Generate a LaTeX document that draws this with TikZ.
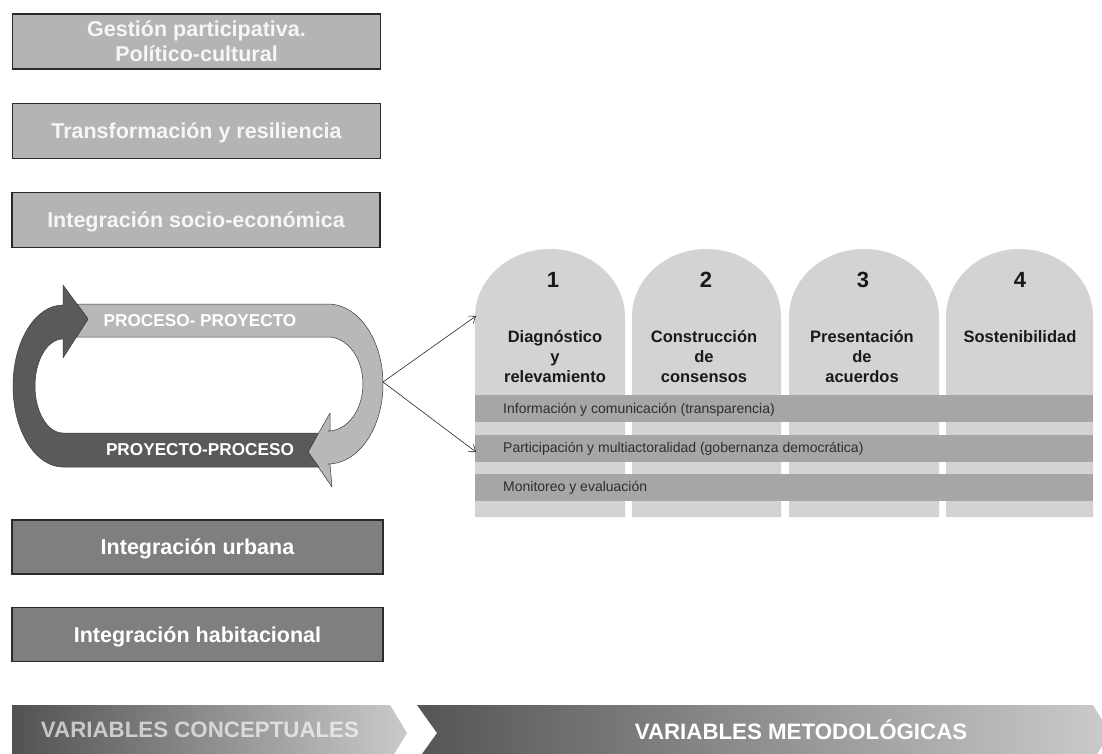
\documentclass[tikz,border=0pt]{standalone}
\usepackage{fontspec}
\setmainfont{Liberation Sans}
\usetikzlibrary{arrows.meta}
\definecolor{lightbox}{HTML}{B4B4B4}
\definecolor{darkbox}{HTML}{7F7F7F}
\definecolor{boxline}{HTML}{2A2A2A}
\definecolor{boxtext}{HTML}{F6F6F6}
\definecolor{looplight}{HTML}{B8B8B8}
\definecolor{loopdark}{HTML}{5A5A5A}
\definecolor{loopline}{HTML}{3C3C3C}
\definecolor{colfill}{HTML}{D3D3D3}
\definecolor{bandfill}{HTML}{A6A6A6}
\definecolor{bandtext}{HTML}{2E2E2E}
\definecolor{banAl}{HTML}{525252}
\definecolor{banAr}{HTML}{CACACA}
\definecolor{banBl}{HTML}{555555}
\definecolor{banBm}{HTML}{8E8E8E}
\definecolor{banBr}{HTML}{CBCBCB}
\begin{document}
\begin{tikzpicture}[x=1pt,y=-1pt,
  lbox/.style={draw=boxline, line width=1.1pt, fill=lightbox, minimum width=368pt, minimum height=55pt,
    text=boxtext, font=\fontsize{21.5}{25}\selectfont\bfseries, align=center, inner sep=0pt},
  dbox/.style={lbox, fill=darkbox, text=white, minimum width=371pt, minimum height=54pt},
  oneline/.style={text height=15.4pt, text depth=0pt},
  looplbl/.style={text=white, font=\fontsize{17.2}{19}\selectfont\bfseries, inner sep=0pt},
  numtxt/.style={font=\fontsize{22}{24}\selectfont\bfseries, text=black!90, inner sep=0pt},
  coltxt/.style={font=\fontsize{16.5}{20}\selectfont\bfseries, align=center, inner sep=0pt, anchor=north, text=black!90},
  bandtxt/.style={font=\fontsize{14}{16}\selectfont, text=bandtext, anchor=base west, inner sep=0pt},
  conn/.style={-{Straight Barb[length=6pt,width=9pt]}, line width=0.6pt, black!85},
  bantxt/.style={font=\fontsize{22.3}{24}\selectfont\bfseries, inner sep=0pt}
]
\useasboundingbox (0,0) rectangle (1102,753);
\fill[white] (0,0) rectangle (1102,753);

% left boxes
\node[lbox] (b1) at (196.5,41.5) {Gestión participativa.\\Político-cultural};
\node[lbox, oneline] (b2) at (196.5,131) {Transformación y resiliencia};
\node[lbox, oneline] (b3) at (196,220) {Integración socio-económica};
\node[dbox, oneline] (b4) at (197.5,547) {Integración urbana};
\node[dbox, oneline] (b5) at (197.5,634.5) {Integración habitacional};

% loop: light part
\filldraw[fill=looplight, draw=loopline, line width=0.5pt, line join=round]
  (77,304) -- (328,304) arc[start angle=-90, end angle=90, x radius=55, y radius=80]
  -- (330,464) -- (332,487) -- (308,452) -- (330,413) -- (330,431) -- (328,431)
  arc[start angle=90, end angle=-90, x radius=35, y radius=47]
  -- (76.5,337) -- (88,319) -- cycle;
% loop: dark part
\filldraw[fill=loopdark, draw=loopline, line width=0.5pt, line join=round]
  (318,433) -- (308,452) -- (319,467) -- (63,467)
  arc[start angle=90, end angle=270, x radius=50, y radius=81]
  -- (63,285) -- (88,319) -- (63,358) -- (63,339)
  arc[start angle=270, end angle=90, x radius=28, y radius=47]
  -- cycle;
\node[looplbl] (pp) at (200,320.5) {PROCESO- PROYECTO};
\node[looplbl] (pr) at (200,450) {PROYECTO-PROCESO};
\coordinate (looptip) at (383,382);

% columns
\foreach \xa/\xb in {475/625, 632/781, 789/939, 946/1093} {
  \fill[colfill] (\xa,517) -- (\xa,317) arc[start angle=180, end angle=360, x radius={(\xb-\xa)/2}, y radius=68] -- (\xb,517) -- cycle;
}
% bands
\fill[bandfill] (475,395) rectangle (1093,422);
\fill[bandfill] (475,435) rectangle (1093,461.5);
\fill[bandfill] (475,473.5) rectangle (1093,500.5);

\node[numtxt] (n1) at (553,280) {1};
\node[numtxt] (n2) at (706,280) {2};
\node[numtxt] (n3) at (863,280) {3};
\node[numtxt] (n4) at (1020,280) {4};

\node[coltxt] (c1) at (555,329) {\rule{0pt}{13pt}Diagnóstico\\y\\relevamiento};
\node[coltxt] (c2) at (704,329) {\rule{0pt}{13pt}Construcción\\de\\consensos};
\node[coltxt] (c3) at (862,329) {\rule{0pt}{13pt}Presentación\\de\\acuerdos};
\node[coltxt] (c4) at (1020,329) {\rule{0pt}{13pt}Sostenibilidad};

\node[bandtxt] (t1) at (503,413) {Información y comunicación (transparencia)};
\node[bandtxt] (t2) at (503,452.8) {Participación y multiactoralidad (gobernanza democrática)};
\node[bandtxt] (t3) at (503,491.5) {Monitoreo y evaluación};

\coordinate (in1) at (476,316);
\coordinate (in2) at (476,452);
\draw[conn] (looptip) -- (in1);
\draw[conn] (looptip) -- (in2);

% bottom banners
\begin{scope}
  \clip (0,0) rectangle (1102,753);
  \shade[left color=banAl, right color=banAr]
    (12,705) -- (390,705) -- (407,733) -- (390,761) -- (12,761) -- cycle;
  \shade[left color=banBl, middle color=banBm, right color=banBr]
    (417,705) -- (1093,705) -- (1110,733) -- (1093,761) -- (417,761) -- (437,733) -- cycle;
\end{scope}
\node[bantxt, text=white, text opacity=0.65] (v1) at (200,729.5) {VARIABLES CONCEPTUALES};
\node[bantxt, text=white] (v2) at (801,729.5) {VARIABLES METODOLÓGICAS};
\end{tikzpicture}
\end{document}
